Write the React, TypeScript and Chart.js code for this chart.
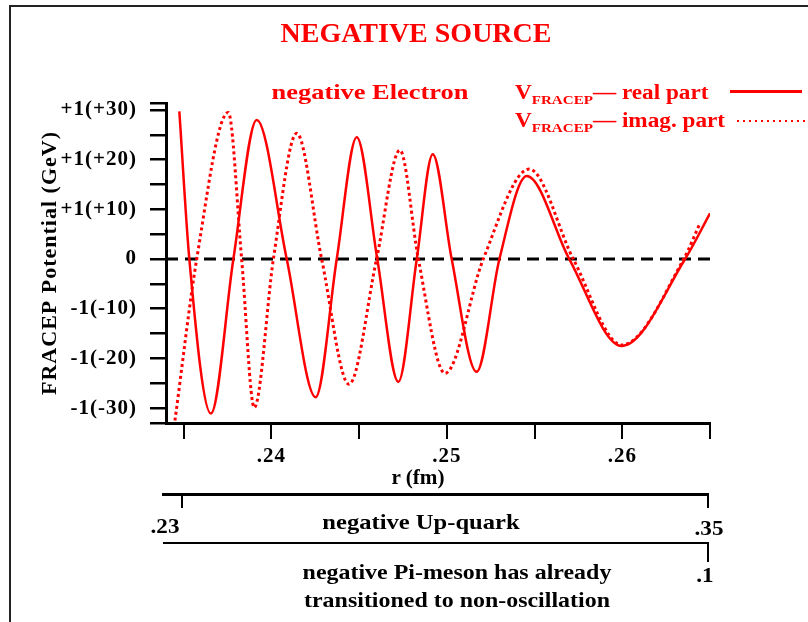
import React, { useEffect, useRef } from "react";
import { Chart, registerables } from "chart.js";

Chart.register(...registerables);

// ---- data ----
const realX = [0.23476, 0.23533, 0.23656, 0.23784, 0.23917, 0.24088, 0.24253, 0.24373, 0.24487, 0.24604, 0.24724, 0.24829, 0.2492, 0.25028, 0.2517, 0.253, 0.25456, 0.25698, 0.25997, 0.26358, 0.265];
const realY = [29.7, 0, -31.1, 0, 28.0, 0, -27.8, 0, 24.5, 0, -24.7, 0, 21.1, 0, -22.7, 0, 16.7, 0, -17.5, 0, 9.2];

const imagX = [0.23451, 0.23575, 0.23755, 0.23831, 0.23903, 0.24012, 0.24145, 0.24287, 0.24443, 0.246, 0.24733, 0.24838, 0.2499, 0.25208, 0.2547, 0.25721, 0.25997, 0.2635, 0.26443];
const imagY = [-32.5, 0, 29.5, 0, -29.9, 0, 25.3, 0, -25.2, 0, 21.9, 0, -23.0, 0, 18.1, 0, -17.3, 0, 7.2];

const zeroX = [0.234, 0.265];
const zeroY = [0, 0];

const xMin = 0.234;
const xMax = 0.265;
const xTickValues = [0.235, 0.24, 0.245, 0.25, 0.255, 0.26, 0.265];
const xTickLabels = ["", ".24", "", ".25", "", ".26", ""];

const yMin = -33;
const yMax = 31.4;
const yTickValues = [-33, -30, -25, -20, -15, -10, -5, 0, 5, 10, 15, 20, 25, 30, 31.4];
const yTickLabels = ["", "-1(-30)", "", "-1(-20)", "", "-1(-10)", "", "0", "", "+1(+10)", "", "+1(+20)", "", "+1(+30)", ""];

const FONT = "'Liberation Serif', 'Times New Roman', serif";
const RED = "#ff0000";

function T(props: {
  x: number;
  y: number;
  text: React.ReactNode;
  size: number;
  color?: string;
  align?: "center" | "left";
  sx?: number;
}) {
  const { x, y, text, size, color = "#000", align = "center", sx = 1 } = props;
  const lh = Math.round(size * 1.2);
  const style: React.CSSProperties = {
    position: "absolute",
    top: y - lh / 2,
    lineHeight: lh + "px",
    fontFamily: FONT,
    fontWeight: "bold",
    fontSize: size,
    color,
    whiteSpace: "nowrap",
    transform: `scaleX(${sx})`,
  };
  if (align === "center") {
    style.left = x - 300;
    style.width = 600;
    style.textAlign = "center";
    style.transformOrigin = "50% 50%";
  } else {
    style.left = x;
    style.transformOrigin = "0 50%";
  }
  return <div style={style}>{text}</div>;
}

function Line(props: { x: number; y: number; w: number; h: number; bg?: string }) {
  return (
    <div
      style={{
        position: "absolute",
        left: props.x,
        top: props.y,
        width: props.w,
        height: props.h,
        background: props.bg || "#000",
      }}
    />
  );
}

const spacingPlugin = {
  id: "textSpacing",
  beforeDraw(chart: any) {
    try {
      chart.ctx.letterSpacing = "1px";
    } catch (e) {}
  },
  afterDraw(chart: any) {
    try {
      chart.ctx.letterSpacing = "0px";
    } catch (e) {}
  },
};

export default function App() {
  const ref = useRef<HTMLCanvasElement | null>(null);

  useEffect(() => {
    if (!ref.current) return;
    const tickFont = { family: FONT, size: 21, weight: "bold" as const };
    const chart = new Chart(ref.current, {
      type: "line",
      data: {
        datasets: [
          {
            label: "VFRACEP - real part",
            data: realX.map((x, i) => ({ x, y: realY[i] })),
            borderColor: RED,
            borderWidth: 2.5,
            pointRadius: 0,
            cubicInterpolationMode: "monotone",
            fill: false,
          },
          {
            label: "VFRACEP - imag. part",
            data: imagX.map((x, i) => ({ x, y: imagY[i] })),
            borderColor: RED,
            borderWidth: 3,
            borderDash: [3, 3],
            pointRadius: 0,
            cubicInterpolationMode: "monotone",
            fill: false,
          },
          {
            label: "zero",
            data: zeroX.map((x, i) => ({ x, y: zeroY[i] })),
            borderColor: "#000",
            borderWidth: 3,
            borderDash: [12, 7],
            pointRadius: 0,
            fill: false,
          },
        ],
      },
      options: {
        responsive: false,
        animation: false,
        devicePixelRatio: 1,
        layout: { padding: { left: 0, top: 103, right: 98, bottom: 0 } },
        plugins: {
          legend: { display: false },
          tooltip: { enabled: false },
        },
        scales: {
          x: {
            type: "linear",
            min: xMin,
            max: xMax,
            afterBuildTicks: (axis: any) => {
              axis.ticks = xTickValues.map((v) => ({ value: v }));
            },
            afterFit: (s: any) => {
              s.height = 199;
            },
            grid: { drawOnChartArea: false, drawTicks: true, tickLength: 16, color: "#000", lineWidth: 2 },
            border: { display: true, color: "#000", width: 3 },
            ticks: {
              autoSkip: false,
              maxRotation: 0,
              padding: 5,
              color: "#000",
              font: tickFont,
              callback: (_v: any, i: number) => xTickLabels[i],
            },
          },
          y: {
            min: yMin,
            max: yMax,
            afterBuildTicks: (axis: any) => {
              axis.ticks = yTickValues.map((v) => ({ value: v }));
            },
            afterFit: (s: any) => {
              s.width = 166;
            },
            grid: { drawOnChartArea: false, drawTicks: true, tickLength: 16, color: "#000", lineWidth: 2.5 },
            border: { display: true, color: "#000", width: 3 },
            ticks: {
              autoSkip: false,
              padding: 13,
              color: "#000",
              font: tickFont,
              callback: (_v: any, i: number) => yTickLabels[i],
            },
            title: {
              display: true,
              text: "FRACEP Potential (GeV)",
              color: "#000",
              font: { family: FONT, size: 22, weight: "bold" },
              padding: { top: 37, bottom: 0 },
            },
          },
        },
      },
      plugins: [spacingPlugin],
    } as any);
    return () => chart.destroy();
  }, []);

  const sub = (s: string) => (
    <span style={{ fontSize: 13, verticalAlign: "-5px" }}>{s}</span>
  );

  return (
    <div
      style={{
        position: "fixed",
        left: 0,
        top: 0,
        width: 808,
        height: 622,
        overflow: "hidden",
        background: "#fff",
      }}
    >
      {/* frame */}
      <div
        style={{
          position: "absolute",
          left: 9,
          top: 5,
          width: 900,
          height: 700,
          borderTop: "2px solid #222",
          borderLeft: "2px solid #222",
        }}
      />
      <canvas ref={ref} width={808} height={622} style={{ position: "absolute", left: 0, top: 0, display: "block" }} />

      <T x={416} y={33} size={28} color={RED} text="NEGATIVE SOURCE" />
      <T x={370} y={92} size={22} sx={1.2} color={RED} text="negative Electron" />

      {/* legend */}
      <T x={515} y={92} size={20} sx={1.16} color={RED} align="left" text={<span>V{sub("FRACEP")}— real part</span>} />
      <Line x={730} y={90} w={72} h={3} bg={RED} />
      <T x={515} y={120} size={20} sx={1.16} color={RED} align="left" text={<span>V{sub("FRACEP")}— imag. part</span>} />
      <div
        style={{
          position: "absolute",
          left: 737,
          top: 120,
          width: 68,
          height: 2,
          background: `repeating-linear-gradient(to right, ${RED} 0 2px, transparent 2px 6px)`,
        }}
      />

      {/* x axis title */}
      <T x={418} y={477} size={20} sx={1.06} text="r (fm)" />

      {/* secondary axis: Up-quark */}
      <Line x={162} y={493} w={547} h={3} />
      <Line x={181} y={494} w={2} h={14} />
      <Line x={707} y={494} w={2} h={14} />
      <T x={165} y={526} size={21} sx={1.1} text=".23" />
      <T x={709} y={528} size={21} sx={1.1} text=".35" />
      <T x={421} y={522} size={21} sx={1.17} text="negative Up-quark" />

      {/* secondary axis: Pi-meson */}
      <Line x={163} y={542} w={546} h={2} />
      <Line x={707} y={542} w={2} h={20} />
      <T x={705} y={575} size={21} sx={1.1} text=".1" />
      <T x={457} y={572} size={21} sx={1.14} text="negative Pi-meson has already" />
      <T x={457} y={600} size={21} sx={1.14} text="transitioned to non-oscillation" />
    </div>
  );
}
